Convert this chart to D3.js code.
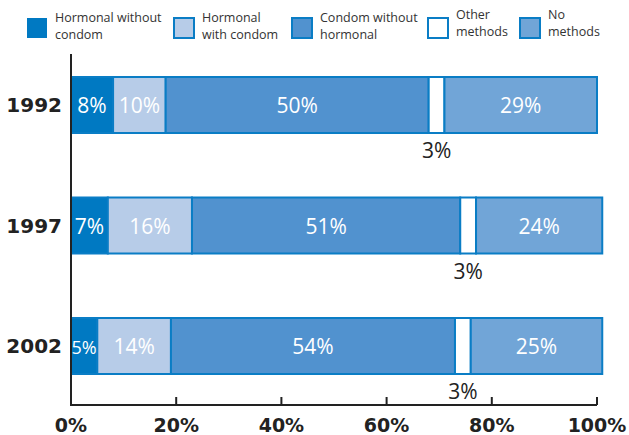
<!DOCTYPE html>
<html>
<head>
<meta charset="utf-8">
<script src="https://cdn.jsdelivr.net/npm/d3@7"></script>
<style>
  body { margin: 0; background: #fff; }
  svg { display: block; }
</style>
</head>
<body>
<div id="chart"></div>
<script>
const years = ["1992", "1997", "2002"];
const seriesNames = ["Hormonal without condom", "Hormonal with condom", "Condom without hormonal", "Other methods", "No methods"];
const legendLines = [["Hormonal without", "condom"], ["Hormonal", "with condom"], ["Condom without", "hormonal"], ["Other", "methods"], ["No", "methods"]];
const hormonalNoCondom = [8, 7, 5];
const hormonalCondom = [10, 16, 14];
const condomOnly = [50, 51, 54];
const otherMethods = [3, 3, 3];
const noMethods = [29, 24, 25];
const xTicks = [0, 20, 40, 60, 80, 100];

const colors = ["#0079c2", "#b7cce8", "#5192cf", "#ffffff", "#71a5d7"];
const strokeCol = "#0a7dc5";

const width = 629, height = 435;

const svg = d3.select("#chart").append("svg")
    .attr("width", width)
    .attr("height", height);

const x = d3.scaleLinear().domain([0, 100]).range([71, 597]);
const y = d3.scalePoint().domain(years).range([105, 346]);

// build rows
const values = [hormonalNoCondom, hormonalCondom, condomOnly, otherMethods, noMethods];
const rows = years.map((yr, i) => {
    let acc = 0;
    return values.map((arr, k) => {
        const seg = { year: yr, k: k, v: arr[i], x0: acc, x1: acc + arr[i] };
        acc += arr[i];
        return seg;
    });
});

const bandH = 56;
const yc = yr => y(yr);

// bars
const rowG = svg.selectAll(".row")
    .data(rows)
    .enter().append("g")
    .attr("class", "row");

rowG.selectAll("rect")
    .data(d => d)
    .enter().append("rect")
    .attr("x", d => x(d.x0))
    .attr("y", d => yc(d.year) - bandH / 2)
    .attr("width", d => x(d.x1) - x(d.x0))
    .attr("height", bandH)
    .style("fill", d => colors[d.k])
    .style("stroke", strokeCol)
    .style("stroke-width", "2px");

// value labels
rowG.selectAll("text")
    .data(d => d)
    .enter().append("text")
    .attr("x", d => x((d.x0 + d.x1) / 2))
    .attr("y", d => d.k === 3 ? yc(d.year) + bandH / 2 + 25 : yc(d.year) + 8)
    .attr("text-anchor", "middle")
    .style("font-family", "'Open Sans', sans-serif")
    .style("font-size", d => d.k === 0 && d.v === 5 ? "18px" : "21px")
    .style("fill", d => d.k === 3 ? "#222" : "#fff")
    .text(d => d.v + "%");

// axes
svg.append("line")
    .attr("x1", x(0)).attr("x2", x(0))
    .attr("y1", 54).attr("y2", 406)
    .style("stroke", "#222").style("stroke-width", "2px");

svg.append("line")
    .attr("x1", x(0)).attr("x2", x(100))
    .attr("y1", 405).attr("y2", 405)
    .style("stroke", "#222").style("stroke-width", "2px");

svg.selectAll(".tick")
    .data(xTicks.slice(1))
    .enter().append("line")
    .attr("x1", d => x(d)).attr("x2", d => x(d))
    .attr("y1", 397).attr("y2", 405)
    .style("stroke", "#222").style("stroke-width", "2px");

svg.selectAll(".tlabel")
    .data(xTicks)
    .enter().append("text")
    .attr("x", d => x(d))
    .attr("y", 432)
    .attr("text-anchor", "middle")
    .style("font-family", "'DejaVu Sans', sans-serif")
    .style("font-weight", "bold")
    .style("font-size", "19px")
    .style("fill", "#222")
    .text(d => d + "%");

svg.selectAll(".ylabel")
    .data(years)
    .enter().append("text")
    .attr("x", 62)
    .attr("y", d => yc(d) + 7)
    .attr("text-anchor", "end")
    .style("font-family", "'DejaVu Sans', sans-serif")
    .style("font-weight", "bold")
    .style("font-size", "20px")
    .style("fill", "#222")
    .text(d => d);

// legend
const legendX = [27, 174, 292, 428, 520];
const leg = svg.selectAll(".legend")
    .data(seriesNames)
    .enter().append("g")
    .attr("transform", (d, i) => `translate(${legendX[i]},18)`);

leg.append("rect")
    .attr("width", 20).attr("height", 20)
    .style("fill", (d, i) => colors[i])
    .style("stroke", (d, i) => i === 0 ? "none" : strokeCol)
    .style("stroke-width", "2px");

leg.each(function(d, i) {
    const t = d3.select(this).append("text")
        .attr("x", 28)
        .style("font-family", "'Open Sans', sans-serif")
        .style("font-size", "12.5px")
        .style("fill", "#333");
    const top = i >= 3 ? 1 : 4;
    legendLines[i].forEach((ln, j) => {
        t.append("tspan").attr("x", 28).attr("y", top + j * 17).text(ln);
    });
});
</script>
</body>
</html>
